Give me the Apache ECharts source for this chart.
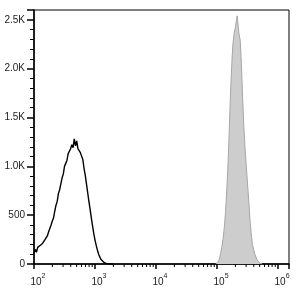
<!DOCTYPE html>
<html><head><meta charset="utf-8">
<script src="https://cdn.jsdelivr.net/npm/echarts@6/dist/echarts.min.js"></script>
<style>html,body{margin:0;padding:0;background:#fff}#c{width:301px;height:294px}</style>
</head><body><div id="c"></div>
<script>
// x positions in decades (log10 of fluorescence), y = event counts
const blackX = [2.00,2.02,2.04,2.06,2.08,2.10,2.12,2.14,2.16,2.18,2.20,2.22,2.24,2.26,2.28,2.30,2.32,2.34,2.36,2.38,2.40,2.42,2.44,2.46,2.48,2.50,2.52,2.54,2.56,2.58,2.60,2.62,2.64,2.66,2.68,2.70,2.72,2.74,2.76,2.78,2.80,2.82,2.84,2.86,2.88,2.90,2.92,2.94,2.96,2.98,3.00,3.02,3.04,3.06,3.08,3.10,3.12,3.14,3.16,3.18,3.20,3.22,3.24,3.26,3.30];
const blackY = [110,150,120,170,160,190,185,210,200,250,235,290,330,320,400,440,470,540,600,640,720,760,820,880,920,1000,1030,1060,1130,1110,1180,1220,1190,1280,1210,1260,1180,1190,1140,1130,1070,980,910,820,730,640,560,470,390,310,245,190,140,100,70,45,30,20,10,6,3,1,2,0,0];
const grayX = [4.98,5.00,5.02,5.04,5.06,5.08,5.10,5.12,5.14,5.16,5.18,5.20,5.22,5.24,5.26,5.28,5.30,5.32,5.33,5.34,5.36,5.38,5.40,5.42,5.44,5.46,5.48,5.50,5.52,5.54,5.56,5.58,5.60,5.62,5.64,5.66,5.68,5.70,5.72,5.74];
const grayY = [0,5,25,50,110,180,260,380,530,760,1020,1350,1720,2020,2250,2360,2420,2500,2540,2480,2360,2290,2050,1700,1400,1180,1000,820,650,450,320,200,150,100,70,40,20,10,3,0];
const xMajorDecades = [2,3,4,5,6];
const minorMultipliers = [2,3,4,5,6,7,8,9];
const yTickLabels = ['0','500','1.0K','1.5K','2.0K','2.5K'];

const xMin = 2, xMax = 6.18;
const minorTicks = [];
xMajorDecades.forEach(d => minorMultipliers.forEach(m => {
  const v = d + Math.log10(m);
  if (v > xMin && v < xMax) minorTicks.push([v, 0]);
}));

const chart = echarts.init(document.getElementById('c'));
const font = 'Liberation Sans, Arial, sans-serif';
chart.setOption({
  animation: false,
  backgroundColor: '#fff',
  grid: {left: 34, right: 12, top: 10, bottom: 30, show: true, borderColor: '#000', borderWidth: 1, backgroundColor: 'transparent'},
  xAxis: {
    type: 'value', min: xMin, max: xMax, interval: 1,
    axisLine: {show: true, lineStyle: {color: '#000', width: 1.5}},
    axisTick: {show: true, length: 5, lineStyle: {color: '#000', width: 1.5}},
    splitLine: {show: false},
    axisLabel: {
      margin: 9, fontFamily: font, color: '#222',
      formatter: v => xMajorDecades.indexOf(v) >= 0 ? '{a|10}{b|' + v + '}' : '',
      rich: {
        a: {fontSize: 10, fontFamily: font, color: '#222', padding: [0,0,0,8], lineHeight: 14, verticalAlign: 'bottom'},
        b: {fontSize: 7, fontFamily: font, color: '#222', verticalAlign: 'top', lineHeight: 14, padding: [0,0,6,0]}
      }
    }
  },
  yAxis: {
    type: 'value', min: 0, max: 2600, interval: 500,
    axisLine: {show: true, lineStyle: {color: '#000', width: 1.5}},
    axisTick: {show: true, length: 7, lineStyle: {color: '#000', width: 1.5}},
    minorTick: {show: true, splitNumber: 5, length: 4, lineStyle: {color: '#000', width: 1}},
    splitLine: {show: false},
    axisLabel: {
      margin: 9, fontSize: 10, fontFamily: font, color: '#222',
      formatter: v => { const i = Math.round(v / 500); return (v % 500 === 0 && i < yTickLabels.length) ? yTickLabels[i] : ''; }
    }
  },
  series: [
    {
      type: 'line', data: grayX.map((x, i) => [x, grayY[i]]), symbol: 'none', smooth: false,
      lineStyle: {color: '#a6a6a6', width: 1}, areaStyle: {color: '#cdcdcd', opacity: 1}, silent: true, z: 2
    },
    {
      type: 'line', data: blackX.map((x, i) => [x, blackY[i]]), symbol: 'none', smooth: false,
      lineStyle: {color: '#000', width: 1.4}, silent: true, z: 3
    },
    {
      type: 'custom', data: minorTicks, silent: true, clip: false, z: 5,
      renderItem: (params, api) => {
        const p = api.coord([api.value(0), 0]);
        return {type: 'line', shape: {x1: p[0], y1: p[1], x2: p[0], y2: p[1] + 3}, style: {stroke: '#000', lineWidth: 1}};
      }
    }
  ]
});
</script></body></html>
